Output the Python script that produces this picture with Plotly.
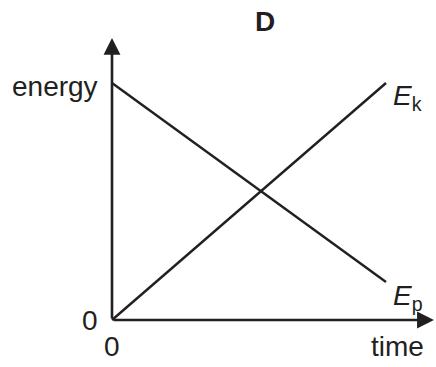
import plotly.graph_objects as go

# energy against time, both scaled 0..1
time = [0, 1]
kinetic = [0, 1]
potential = [1, 0.16]

W, H = 436, 367
x0_px, x1_px = 112, 386   # time 0 and time 1 in pixels
y0_px, y1_px = 320, 83    # energy 0 and energy 1 in pixels (from top)
sx = x1_px - x0_px
sy = y0_px - y1_px

ink = "#231f20"
font = dict(family="Liberation Sans, Arial, sans-serif", size=28, color=ink)

fig = go.Figure()
fig.add_trace(go.Scatter(x=time, y=kinetic, mode="lines",
                         line=dict(color=ink, width=2.4), showlegend=False))
fig.add_trace(go.Scatter(x=time, y=potential, mode="lines",
                         line=dict(color=ink, width=2.4), showlegend=False))

# axes with arrows
fig.add_annotation(x=0, y=1.19, ax=0, ay=0, xref="x", yref="y", axref="x", ayref="y",
                   text="", showarrow=True, arrowhead=2, arrowsize=1.3,
                   arrowwidth=2.6, arrowcolor=ink)
fig.add_annotation(x=1.175, y=0, ax=0, ay=0, xref="x", yref="y", axref="x", ayref="y",
                   text="", showarrow=True, arrowhead=2, arrowsize=1.3,
                   arrowwidth=2.6, arrowcolor=ink)

labels = [
    (-0.045, 0.985, "energy", "right", "middle"),
    (-0.045, 0.0, "0", "right", "middle"),
    (0.0, -0.04, "0", "center", "top"),
    (1.042, -0.04, "time", "center", "top"),
    (1.02, 0.94, "<i>E</i><sub>k</sub>", "left", "middle"),
    (1.02, 0.095, "<i>E</i><sub>p</sub>", "left", "middle"),
]
for x, y, t, xa, ya in labels:
    fig.add_annotation(x=x, y=y, text=t, showarrow=False, xanchor=xa, yanchor=ya,
                       font=font)

fig.add_annotation(x=0.56, y=1.26, text="<b>D</b>", showarrow=False,
                   xanchor="center", yanchor="middle", font=dict(font, size=28))

fig.update_xaxes(range=[-x0_px / sx, (W - x0_px) / sx], visible=False)
fig.update_yaxes(range=[-(H - y0_px) / sy, y0_px / sy], visible=False)
fig.update_layout(width=W, height=H, margin=dict(l=0, r=0, t=0, b=0),
                  plot_bgcolor="white", paper_bgcolor="white")

fig.write_html("out.html", config={"displayModeBar": False},
               post_script="document.body.style.margin='0';")
